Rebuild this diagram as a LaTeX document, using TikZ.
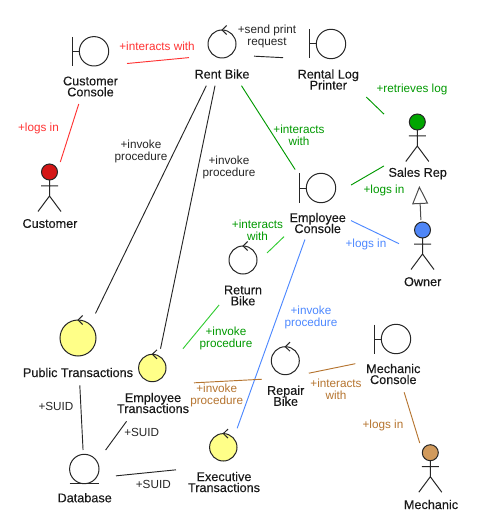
\documentclass[tikz,border=0pt]{standalone}
\usepackage{fontspec}
\setmainfont{Liberation Sans}
\newfontfamily\namefont[FakeBold=0.2]{Liberation Sans}
\usepackage{tikz}
\usetikzlibrary{arrows.meta}
\definecolor{redtxt}{HTML}{FF3333}
\definecolor{greentxt}{HTML}{009900}
\definecolor{greenlite}{HTML}{33CC33}
\definecolor{bluetxt}{HTML}{4D88FF}
\definecolor{browntxt}{HTML}{B5742F}
\definecolor{trans}{HTML}{FFFF88}
\definecolor{redhead}{HTML}{D41616}
\definecolor{greenhead}{HTML}{00A600}
\definecolor{bluehead}{HTML}{4F86F7}
\definecolor{brownhead}{HTML}{D19A5C}
\newcommand{\tightlines}{\lineskiplimit=-10pt\relax}
\tikzset{
  pics/boundary/.style={code={
    \draw[symbol] (0,0) circle[radius=14.7];
    \draw[symbol] (-22,-14.5) -- (-22,14.5) (-22,0) -- (-14.7,0);
  }},
  pics/control/.style n args={2}{code={
    \draw[symbol, fill=#2] (0,0) circle[radius=#1];
    \draw[symbol] (4.7,-#1-4.5) -- (0,-#1) -- (4.7,-#1+4.5);
  }},
  pics/entity/.style={code={
    \draw[symbol] (0,0) circle[radius=14.7];
    \draw[symbol] (-14.7,14.6) -- (14.7,14.6);
  }},
  pics/actor/.style={code={
    \draw[symbol, fill=#1] (0,0) circle[radius=8];
    \draw[symbol] (0,8) -- (0,24) (-8.5,14) -- (8.5,14) (-11.5,39.5) -- (0,24) -- (11.5,39.5);
  }}
}
\begin{document}
\begin{tikzpicture}[
  x=0.75pt, y=-0.75pt,
  symbol/.style={draw=black!85, line width=0.75pt},
  elem/.style n args={2}{rectangle, inner sep=0pt, outer sep=0pt, minimum width=#1*0.75pt, minimum height=#2*0.75pt},
  elemname/.style={align=center, font=\namefont\fontsize{9.5}{8.25}\selectfont\tightlines, text=black!90, inner sep=0pt},
  tag/.style={align=center, font=\fontsize{8.8}{9}\selectfont\tightlines, inner sep=0pt},
  link/.style={line width=0.7pt}
]
  \useasboundingbox (0,0) rectangle (479,527);

  % Link end boxes
  \node[elem={73}{74}] (custcons) at (90.5, 67) {};
  \node[elem={65}{62.4}] (rentbike) at (221.5, 54.5) {};
  \node[elem={90}{74}] (printer) at (328, 60) {};
  \node[elem={50}{68}] (customer) at (49.5, 196) {};
  \node[elem={67}{79}] (salesrep) at (417.5, 146.5) {};
  \node[elem={67}{70}] (empcons) at (317.5, 204.5) {};
  \node[elem={47}{70}] (owner) at (422.5, 255) {};
  \node[elem={48}{58}] (retbike) at (243, 276) {};
  \node[elem={120}{72}] (pubtrans) at (78, 349.4) {};
  \node[elem={82}{72.6}] (emptrans) at (153, 385) {};
  \node[elem={63}{58}] (database) at (84.5, 479) {};
  \node[elem={96}{73.4}] (exectrans) at (224, 465) {};
  \node[elem={47}{62}] (repbike) at (285.3, 378) {};
  \node[elem={75.4}{72.6}] (mechcons) at (393, 356) {};
  \node[elem={50}{70}] (mechanic) at (430.5, 478) {};

  % Symbols
  \pic at (94, 51.3) {boundary};
  \pic at (331, 44) {boundary};
  \pic at (321, 188) {boundary};
  \pic at (396, 339) {boundary};
  \pic at (222, 44) {control={14}{white}};
  \pic at (243, 260) {control={14}{white}};
  \pic at (285.3, 360.7) {control={14}{white}};
  \pic at (78, 338) {control={18}{trans}};
  \pic at (152.3, 368) {control={13.7}{trans}};
  \pic at (223.3, 447.3) {control={13.7}{trans}};
  \pic at (84.3, 469) {entity};
  \pic at (49.5, 172) {actor=redhead};
  \pic at (417.3, 122) {actor=greenhead};
  \pic at (422.5, 230) {actor=bluehead};
  \pic at (430.3, 452.7) {actor=brownhead};

  % Names
  \node[elemname] (custconsname) at (90.5, 86.5) {Customer\\Console};
  \node[elemname] (rentbikename) at (222, 74) {Rent Bike};
  \node[elemname] (printername) at (328.3, 79.5) {Rental Log\\Printer};
  \node[elemname] (customername) at (50, 223.5) {Customer};
  \node[elemname] (salesrepname) at (417.7, 173.5) {Sales Rep};
  \node[elemname] (empconsname) at (317.7, 223) {Employee\\Console};
  \node[elemname] (ownername) at (422.7, 281.7) {Owner};
  \node[elemname] (retbikename) at (243, 295.5) {Return\\Bike};
  \node[elemname] (pubtransname) at (78, 372.5) {Public Transactions};
  \node[elemname] (emptransname) at (153, 403) {Employee\\Transactions};
  \node[elemname] (databasename) at (84.7, 497.7) {Database};
  \node[elemname] (exectransname) at (224, 482) {Executive\\Transactions};
  \node[elemname] (repbikename) at (285.7, 395.8) {Repair\\Bike};
  \node[elemname] (mechconsname) at (393.3, 374) {Mechanic\\Console};
  \node[elemname] (mechanicname) at (431, 504.5) {Mechanic};

  % Customer links
  \draw[link, redtxt] (custcons) -- (rentbike);
  \draw[link, redtxt] (custcons) -- (customer);
  \node[tag, text=redtxt] (t1) at (157, 46.5) {+interacts with};
  \node[tag, text=redtxt] (t2) at (38.5, 128) {+logs in};

  % Rent bike links
  \draw[link, black!85] (rentbike) -- (printer);
  \draw[link, black!85] (rentbike) -- (pubtrans);
  \draw[link, black!85] (rentbike) -- (emptrans);
  \node[tag, text=black!85] (t3) at (267, 36) {+send print\\request};
  \node[tag, text=black!85] (t4) at (141, 151) {+invoke\\procedure};
  \node[tag, text=black!85] (t5) at (229, 167) {+invoke\\procedure};

  % Sales rep links
  \draw[link, greentxt] (rentbike) -- (empcons);
  \draw[link, greentxt] (printer) -- (salesrep);
  \draw[link, greentxt] (empcons) -- (salesrep);
  \draw[link, greenlite] (empcons) -- (retbike);
  \draw[link, greenlite] (retbike) -- (emptrans);
  \node[tag, text=greentxt] (t6) at (412, 89) {+retrieves log};
  \node[tag, text=greentxt] (t7) at (299, 135) {+interacts\\with};
  \node[tag, text=greentxt] (t8) at (384, 190) {+logs in};
  \node[tag, text=greentxt] (t9) at (257.5, 230) {+interacts\\with};
  \node[tag, text=greentxt] (t10) at (226, 338) {+invoke\\procedure};

  % Owner links
  \draw[link, bluetxt] (empcons) -- (owner);
  \draw[link, bluetxt] (empcons) -- (exectrans);
  \draw[line width=0.75pt, draw=black!70, -{Triangle[open, length=13.5pt, width=12pt]}] (owner) -- (salesrep);
  \node[tag, text=bluetxt] (t11) at (366, 244) {+logs in};
  \node[tag, text=bluetxt] (t12) at (311, 317.7) {+invoke\\procedure};

  % Mechanic links
  \draw[link, browntxt] (emptrans) -- (repbike);
  \draw[link, browntxt] (repbike) -- (mechcons);
  \draw[link, browntxt] (mechcons) -- (mechanic);
  \node[tag, text=browntxt] (t13) at (216.7, 395.7) {+invoke\\procedure};
  \node[tag, text=browntxt] (t14) at (336, 389.7) {+interacts\\with};
  \node[tag, text=browntxt] (t15) at (383, 425.7) {+logs in};

  % Database links
  \draw[link, black!85] (pubtrans) -- (database);
  \draw[link, black!85] (emptrans) -- (database);
  \draw[link, black!85] (exectrans) -- (database);
  \node[tag, text=black!85] (t16) at (56, 406.7) {+SUID};
  \node[tag, text=black!85] (t17) at (141.7, 432.7) {+SUID};
  \node[tag, text=black!85] (t18) at (153.3, 484.7) {+SUID};
\end{tikzpicture}
\end{document}
